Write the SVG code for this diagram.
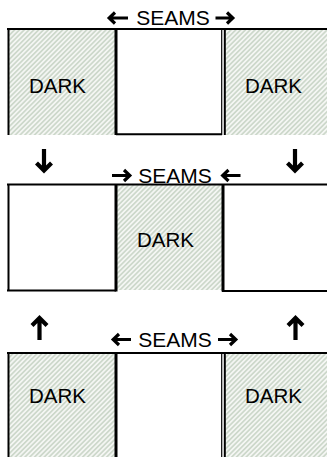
<svg xmlns="http://www.w3.org/2000/svg" width="327" height="457" viewBox="0 0 327 457">
<defs>
<pattern id="hatch" patternUnits="userSpaceOnUse" width="3.4" height="3.4" patternTransform="rotate(45)">
<rect width="3.4" height="3.4" fill="#f4f6f3"/>
<rect width="1.7" height="3.4" fill="#cdd8cb"/>
</pattern>
</defs>
<style>
.lbl{font-family:"Liberation Sans",Arial,sans-serif;font-size:20.5px;fill:#000;text-anchor:middle}
.seam{font-family:"Liberation Sans",Arial,sans-serif;font-size:21px;fill:#000;text-anchor:middle}
.ha{stroke:#000;stroke-width:3.2px;fill:none;stroke-linejoin:miter}
.va{stroke:#000;stroke-width:4.2px;fill:none;stroke-linejoin:miter}
.ln{stroke:#000;fill:none}
</style>
<rect width="327" height="457" fill="#fff"/>
<g id="row1">
<g id="r1-left"><rect x="9" y="30" width="107" height="105" fill="url(#hatch)"/><text class="lbl" x="57.5" y="93">DARK</text></g>
<g id="r1-mid"><rect x="116" y="29" width="106" height="105" fill="#fff"/></g>
<g id="r1-right"><rect x="225" y="30" width="102" height="105" fill="url(#hatch)"/><text class="lbl" x="273.5" y="93">DARK</text></g>
<g id="r1-label"><text class="seam" x="173" y="25">SEAMS</text>
<path class="ha" d="M115 12.5L109.2 18L115 23.5M110 18H128"/>
<path class="ha" d="M227 12.5L232.8 18L227 23.5M232 18H215.5"/></g>
</g>
<g id="row2">
<g id="r2-left"><rect x="8" y="184" width="108" height="107" fill="#fff"/></g>
<g id="r2-mid"><rect x="116" y="185" width="107" height="105" fill="url(#hatch)"/><text class="lbl" x="165.5" y="247">DARK</text></g>
<g id="r2-right"><rect x="223" y="184" width="104" height="107" fill="#fff"/></g>
<g id="r2-label"><text class="seam" x="175" y="183">SEAMS</text>
<path class="ha" d="M124 170L129.8 175.5L124 181M129 175.5H112"/>
<path class="ha" d="M228.5 170L222.7 175.5L228.5 181M223.5 175.5H240.5"/></g>
<g id="r2-arrows">
<path class="va" d="M36.5 163L44 170.5L51.5 163M44 149V170"/>
<path class="va" d="M287.5 163L295 170.5L302.5 163M295 149V170"/>
</g>
</g>
<g id="row3">
<g id="r3-left"><rect x="9" y="354" width="107" height="103" fill="url(#hatch)"/><text class="lbl" x="57.5" y="403">DARK</text></g>
<g id="r3-mid"><rect x="116" y="353" width="106" height="104" fill="#fff"/></g>
<g id="r3-right"><rect x="225" y="354" width="102" height="103" fill="url(#hatch)"/><text class="lbl" x="273.5" y="403">DARK</text></g>
<g id="r3-label"><text class="seam" x="175" y="347">SEAMS</text>
<path class="ha" d="M119 334L113.2 339.5L119 345M114 339.5H131"/>
<path class="ha" d="M230 334L235.8 339.5L230 345M235 339.5H218"/></g>
<g id="r3-arrows">
<path class="va" d="M32 325.5L39.5 318L47 325.5M39.5 318V340"/>
<path class="va" d="M288 325.5L295.5 318L303 325.5M295.5 318V340"/>
</g>
</g>
<g id="connectors">
<path class="ln" stroke-width="2" d="M7 29H327M8.5 29V135M116 134.3H222"/>
<path class="ln" stroke-width="3" d="M116 28V135"/>
<path class="ln" stroke-width="1.2" d="M221.7 29V135"/>
<path class="ln" stroke-width="2" d="M224.8 29V135"/>
<path class="ln" stroke-width="2" d="M7 184.5H327M8.5 184V291M7 290.5H116M222 291H327"/>
<path class="ln" stroke-width="3" d="M116 184V291.5M223 184V291.5"/>
<path class="ln" stroke-width="2" d="M7 353H327M8.5 353V457"/>
<path class="ln" stroke-width="3" d="M116 352V457"/>
<path class="ln" stroke-width="1.2" d="M221.7 353V457"/>
<path class="ln" stroke-width="2" d="M224.8 353V457"/>
</g>
</svg>
